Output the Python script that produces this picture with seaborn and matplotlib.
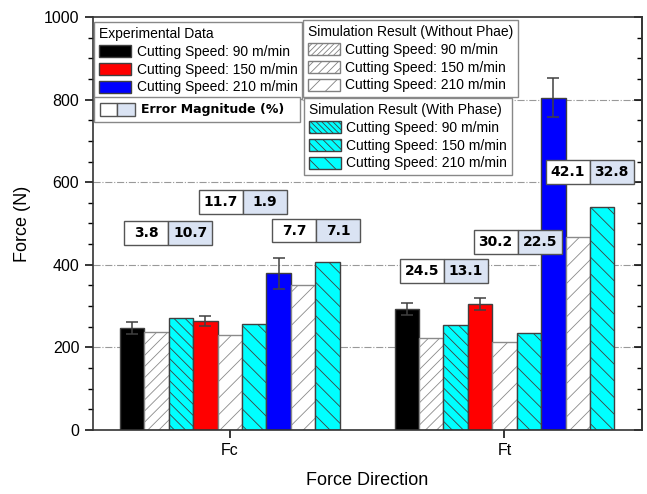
import numpy as np
import pandas as pd
import matplotlib
matplotlib.use("Agg")
import matplotlib.pyplot as plt
import seaborn as sns
from matplotlib.patches import Patch, Rectangle
from matplotlib.legend_handler import HandlerTuple
from matplotlib.ticker import MultipleLocator

directions = ["Fc", "Ft"]
speeds = ["90", "150", "210"]

exp_fc = [247, 263, 379]
exp_ft = [293, 305, 805]
exp_err_fc = [15, 12, 38]
exp_err_ft = [14, 15, 47]
nophase_fc = [238, 231, 351]
nophase_ft = [222, 212, 467]
phase_fc = [272, 257, 406]
phase_ft = [254, 236, 540]

err_exp_vs_nophase = [[3.8, 11.7, 7.7], [24.5, 30.2, 42.1]]
err_exp_vs_phase = [[10.7, 1.9, 7.1], [13.1, 22.5, 32.8]]
# centre of each error label box (x in category units, y in N)
label_pos = [[(-0.224, 478), (0.048, 551), (0.314, 483)],
             [(0.779, 386), (1.048, 456), (1.310, 624)]]

exp_colors = ["black", "red", "blue"]
gray_hatch = ["///", "//", "//"]
cyan_hatch = ["\\\\\\", "\\\\", "\\\\"]

rows = []
order = []
for i, s in enumerate(speeds):
    for kind, fc, ft in [("exp", exp_fc, exp_ft), ("nophase", nophase_fc, nophase_ft),
                         ("phase", phase_fc, phase_ft)]:
        name = f"{kind}_{s}"
        order.append(name)
        rows.append({"Direction": "Fc", "Series": name, "Force": fc[i]})
        rows.append({"Direction": "Ft", "Series": name, "Force": ft[i]})
df = pd.DataFrame(rows)

palette = {}
for i, s in enumerate(speeds):
    palette[f"exp_{s}"] = exp_colors[i]
    palette[f"nophase_{s}"] = "white"
    palette[f"phase_{s}"] = "cyan"

plt.rcParams["font.family"] = ["Liberation Sans", "DejaVu Sans"]
plt.rcParams["hatch.linewidth"] = 0.6

fig = plt.figure(figsize=(6.47, 4.94), dpi=100)
ax = fig.add_axes([0.143, 0.1296, 0.849, 0.836])

sns.barplot(data=df, x="Direction", y="Force", hue="Series", hue_order=order,
            order=directions, palette=palette, saturation=1, width=0.8, gap=0,
            legend=False, ax=ax, zorder=2)

for k, cont in enumerate(ax.containers):
    kind, s = order[k].split("_")
    i = speeds.index(s)
    for bar in cont:
        if kind == "exp":
            bar.set_edgecolor("#404040")
            bar.set_linewidth(1.0)
        elif kind == "nophase":
            bar.set_edgecolor("#8a8a8a")
            bar.set_hatch(gray_hatch[i])
            bar.set_linewidth(1.0)
        else:
            bar.set_edgecolor("#404040")
            bar.set_hatch(cyan_hatch[i])
            bar.set_linewidth(1.0)

# error bars on experimental data
for i, s in enumerate(speeds):
    cont = ax.containers[order.index(f"exp_{s}")]
    xs = [b.get_x() + b.get_width() / 2 for b in cont]
    ys = [b.get_height() for b in cont]
    ax.errorbar(xs, ys, yerr=[exp_err_fc[i], exp_err_ft[i]], fmt="none",
                ecolor="#404040", elinewidth=1.1, capsize=4, capthick=1.1, zorder=3)

# error magnitude boxes
bw, bh = 0.16, 58
for d in range(2):
    for i in range(3):
        cx, cy = label_pos[d][i]
        for j, (val, fc) in enumerate([(err_exp_vs_nophase[d][i], "white"),
                                       (err_exp_vs_phase[d][i], "#dae3f3")]):
            x0 = cx - bw + j * bw
            ax.add_patch(Rectangle((x0, cy - bh / 2), bw, bh, facecolor=fc,
                                   edgecolor="#555555", lw=1.0, zorder=5))
            ax.text(x0 + bw / 2, cy, f"{val:.1f}", ha="center", va="center",
                    fontsize=10, fontweight="bold", zorder=6,
                    family=["DejaVu Sans"])

ax.set_xlim(-0.5, 1.5)
ax.set_ylim(0, 1000)
ax.yaxis.set_major_locator(MultipleLocator(200))
ax.yaxis.set_minor_locator(MultipleLocator(50))
ax.grid(False)
for y in [200, 400, 600, 800]:
    ax.axhline(y, color="#999999", lw=0.8, ls="-.", zorder=0)

ax.tick_params(axis="y", which="major", direction="out", length=6, width=1.1,
               labelsize=11.5)
ax.tick_params(axis="y", which="minor", direction="out", length=3.5, width=1.0)
ax.tick_params(axis="x", direction="out", length=6, width=1.1, labelsize=11.5)
for sp in ax.spines.values():
    sp.set_linewidth(1.2)
    sp.set_color("#333333")
    sp.set_visible(True)

sec = ax.secondary_yaxis("right")
sec.yaxis.set_major_locator(MultipleLocator(200))
sec.yaxis.set_minor_locator(MultipleLocator(50))
sec.tick_params(which="major", direction="in", length=6, width=1.1, labelright=False)
sec.tick_params(which="minor", direction="in", length=3.5, width=1.0)
sec.spines["right"].set_linewidth(1.2)
sec.spines["right"].set_color("#333333")

ax.set_xlabel("Force Direction", fontsize=13, labelpad=10)
ax.set_ylabel("Force (N)", fontsize=13, labelpad=9)

# legends
leg_kw = dict(fontsize=10, title_fontsize=10, frameon=True, fancybox=False,
              edgecolor="#888888", framealpha=1, borderpad=0.35, labelspacing=0.28,
              handlelength=2.3, handleheight=0.95, handletextpad=0.4,
              borderaxespad=0, alignment="left")

h1 = [Patch(facecolor=exp_colors[i], edgecolor="#404040") for i in range(3)]
l1 = [f"Cutting Speed: {s} m/min" for s in speeds]
leg1 = ax.legend(h1, l1, title="Experimental Data", loc="upper left",
                 bbox_to_anchor=(0.003, 0.988), **leg_kw)
ax.add_artist(leg1)

h3 = [Patch(facecolor="white", edgecolor="#808080", hatch=g * 2) for g in ["///", "//", "/"]]
leg3 = ax.legend(h3, l1, title="Simulation Result (Without Phae)", loc="upper left",
                 bbox_to_anchor=(0.383, 0.993), **leg_kw)
ax.add_artist(leg3)

h4 = [Patch(facecolor="cyan", edgecolor="#404040", hatch=g * 2) for g in ["\\\\\\", "\\\\", "\\"]]
leg4 = ax.legend(h4, l1, title="Simulation Result (With Phase)", loc="upper left",
                 bbox_to_anchor=(0.385, 0.804), **leg_kw)
ax.add_artist(leg4)

h2 = [(Patch(facecolor="white", edgecolor="#555555"),
       Patch(facecolor="#dae3f3", edgecolor="#555555"))]
leg2_kw = {k: v for k, v in leg_kw.items()
           if k not in ("fontsize", "title_fontsize", "handlelength", "handleheight",
                        "handletextpad", "borderpad")}
leg2 = ax.legend(h2, ["Error Magnitude (%)"], loc="upper left",
                 bbox_to_anchor=(0.003, 0.0, 0.375, 0.806), mode="expand",
                 handler_map={tuple: HandlerTuple(ndivide=None, pad=0)},
                 prop={"size": 9, "weight": "bold", "family": "DejaVu Sans"},
                 handlelength=2.8, handleheight=1.2, handletextpad=0.5,
                 borderpad=0.45, **leg2_kw)

fig.savefig("out.png", dpi=100)
